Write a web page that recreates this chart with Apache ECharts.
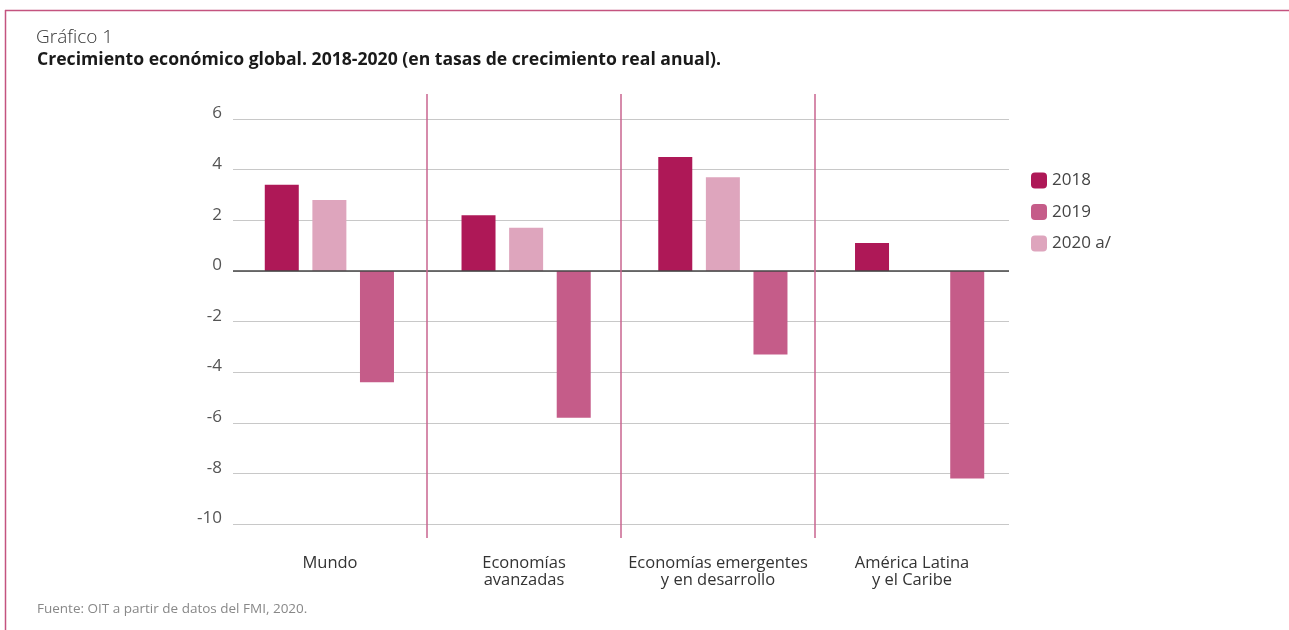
<!DOCTYPE html>
<html>
<head>
<meta charset="utf-8">
<script src="https://cdn.jsdelivr.net/npm/echarts@6/dist/echarts.min.js"></script>
<style>
html,body{margin:0;padding:0;background:#fff;}
#chart{width:1289px;height:630px;}
</style>
</head>
<body>
<div id="chart"></div>
<script>
var categories = ['Mundo', 'Economías\navanzadas', 'Economías emergentes\ny en desarrollo', 'América Latina\ny el Caribe'];
// bar order as drawn in each group: dark, light, medium
var values2018 = [3.4, 2.2, 4.5, 1.1];
var values2020 = [2.8, 1.7, 3.7, null];
var values2019 = [-4.4, -5.8, -3.3, -8.2];
var legendNames = ['2018', '2019', '2020 a/'];
var yTicks = {min: -10, max: 6, interval: 2};
var separators = [1, 2, 3];

var C_DARK = '#ae1857', C_MED = '#c55c89', C_LIGHT = '#dea5bd', C_SEP = '#c8648f', C_FRAME = '#c4537f';
var FONT = '"Open Sans", "Noto Sans", sans-serif';

var chart = echarts.init(document.getElementById('chart'));

chart.setOption({
  animation: false,
  textStyle: {fontFamily: FONT},
  graphic: [
    {type: 'line', shape: {x1: 5, y1: 10.5, x2: 1289, y2: 10.5}, style: {stroke: C_FRAME, lineWidth: 1.5}},
    {type: 'line', shape: {x1: 5.5, y1: 10, x2: 5.5, y2: 630}, style: {stroke: C_FRAME, lineWidth: 1.5}},
    {type: 'text', left: 36, top: 28, style: {text: 'Gráfico 1', font: '300 19px ' + FONT, fill: '#333'}},
    {type: 'text', left: 37, top: 51, style: {text: 'Crecimiento económico global. 2018-2020 (en tasas de crecimiento real anual).', font: 'bold 17.6px ' + FONT, fill: '#1a1a1a'}},
    {type: 'text', left: 37, top: 602, style: {text: 'Fuente: OIT a partir de datos del FMI, 2020.', font: '13.5px ' + FONT, fill: '#888'}}
  ],
  legend: {
    orient: 'vertical', left: 1026, top: 167,
    data: legendNames,
    itemWidth: 16, itemHeight: 16, itemGap: 14.5,
    textStyle: {fontSize: 17, color: '#444', fontFamily: FONT},
    selectedMode: false
  },
  grid: [
    {left: 233, right: 280, top: 119, bottom: 106},
    {left: 233, right: 280, top: 94, bottom: 92},
    {left: 231, right: 271, top: 119, bottom: 106}
  ],
  xAxis: [
    {
      type: 'category', data: categories, gridIndex: 0,
      axisLine: {show: false}, axisTick: {show: false},
      axisLabel: {margin: 31, fontSize: 16.5, color: '#333', lineHeight: 17, interval: 0, fontFamily: FONT},
      splitLine: {show: false}
    },
    {type: 'value', gridIndex: 1, min: 0, max: 4, show: false},
    {type: 'category', data: categories, gridIndex: 2, show: false}
  ],
  yAxis: [
    {
      type: 'value', gridIndex: 0, min: yTicks.min, max: yTicks.max, interval: yTicks.interval,
      axisLine: {show: false}, axisTick: {show: false},
      axisLabel: {margin: 11, fontSize: 17, color: '#555', fontFamily: FONT, verticalAlign: 'bottom', lineHeight: 11},
      splitLine: {lineStyle: {color: '#c8c8c8', width: 1}}
    },
    {type: 'value', gridIndex: 1, min: 0, max: 1, show: false},
    {type: 'value', gridIndex: 2, min: yTicks.min, max: yTicks.max, interval: yTicks.interval, show: false}
  ],
  series: [
    {name: '2018', type: 'bar', xAxisIndex: 2, yAxisIndex: 2, data: values2018, itemStyle: {color: C_DARK}, barWidth: 34, barGap: '40%'},
    {name: '2020 a/', type: 'bar', xAxisIndex: 2, yAxisIndex: 2, data: values2020, itemStyle: {color: C_LIGHT}, barWidth: 34, barGap: '40%'},
    {name: '2019', type: 'bar', xAxisIndex: 2, yAxisIndex: 2, data: values2019, itemStyle: {color: C_MED}, barWidth: 34, barGap: '40%'},
    {
      type: 'line', xAxisIndex: 0, yAxisIndex: 0, data: [], silent: true, z: 5,
      markLine: {
        silent: true, symbol: 'none', label: {show: false},
        lineStyle: {color: '#444', width: 1.5, type: 'solid'},
        data: [{yAxis: 0}]
      }
    },
    {
      type: 'line', xAxisIndex: 1, yAxisIndex: 1, data: [], silent: true,
      markLine: {
        silent: true, symbol: 'none', label: {show: false},
        lineStyle: {color: C_SEP, width: 1.5, type: 'solid'},
        data: separators.map(function (v) { return {xAxis: v}; })
      }
    }
  ]
});
</script>
</body>
</html>
